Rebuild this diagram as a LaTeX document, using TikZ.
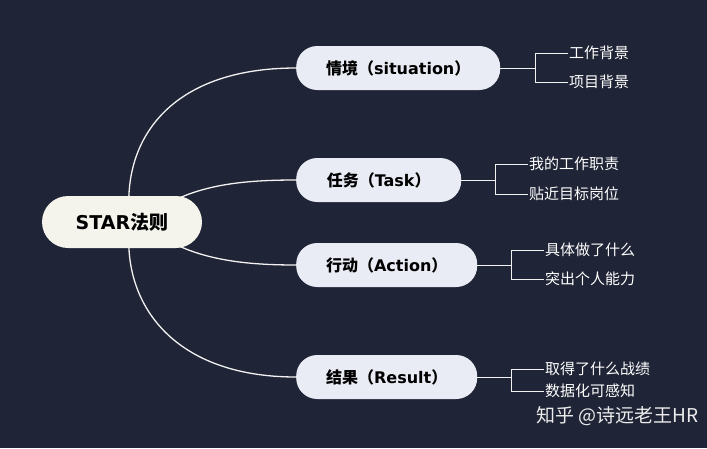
\documentclass[tikz,border=0pt]{standalone}
\usepackage{fontspec}
\setmainfont{DejaVu Sans}
\newfontfamily\cjk{Noto Sans CJK SC}
\begin{document}
\begin{tikzpicture}[x=1pt,y=-1pt,
  branch/.style={rounded corners=21pt,fill=lav,minimum height=44pt,anchor=west,font=\bfseries\fontsize{16}{16}\selectfont,text=black},
  leaf/.style={anchor=west,text=white,font=\cjk\fontsize{15}{15}\selectfont,inner sep=1pt},
  ln/.style={draw=white!90!gray,line width=1.3pt}]
\definecolor{bg}{HTML}{1F2436}
\definecolor{lav}{HTML}{E9EBF5}
\definecolor{cream}{HTML}{F4F4EC}
\fill[bg] (0,0) rectangle (707,448);
\useasboundingbox (0,0) rectangle (707,448);
\coordinate (c) at (130,222);
\node[branch,minimum width=204pt] (b1) at (296,68) {{\cjk\bfseries 情境（}situation{\cjk\bfseries ）}};
\node[branch,minimum width=165pt] (b2) at (296,180) {{\cjk\bfseries 任务（}Task{\cjk\bfseries ）}};
\node[branch,minimum width=181pt] (b3) at (296,265) {{\cjk\bfseries 行动（}Action{\cjk\bfseries ）}};
\node[branch,minimum width=181pt] (b4) at (296,377) {{\cjk\bfseries 结果（}Result{\cjk\bfseries ）}};
\draw[ln] (c) .. controls (120,140) and (170,68) .. (b1.west);
\draw[ln] (150,215) .. controls (190,185) and (240,180) .. (b2.west);
\draw[ln] (150,229) .. controls (190,259) and (240,265) .. (b3.west);
\draw[ln] (c) .. controls (120,300) and (170,377) .. (b4.west);
\node[rounded corners=26pt,fill=cream,minimum width=160pt,minimum height=52pt,font=\bfseries\fontsize{19}{19}\selectfont] (root) at (122,222) {STAR{\cjk\bfseries 法则}};
\node[leaf] (l11) at (568,53) {工作背景};
\node[leaf] (l12) at (568,82) {项目背景};
\node[leaf] (l21) at (528,164) {我的工作职责};
\node[leaf] (l22) at (528,194) {贴近目标岗位};
\node[leaf] (l31) at (544,250) {具体做了什么};
\node[leaf] (l32) at (544,279) {突出个人能力};
\node[leaf] (l41) at (544,369) {取得了什么战绩};
\node[leaf] (l42) at (544,391) {数据化可感知};
\foreach \b/\x/\p/\q in {b1/535/l11/l12,b2/495/l21/l22,b3/511/l31/l32,b4/511/l41/l42}{
  \draw[ln,line width=0.9pt] (\b.east) -- (\x,0 |- \b.east);
  \draw[ln,line width=0.9pt] (\p.west) -| (\x,0 |- \q.west) -- (\q.west);
}
\node[anchor=east,text=white!85!gray,font=\cjk\fontsize{19}{19}\selectfont] (wm) at (702,416) {知乎 @诗远老王HR};
\end{tikzpicture}
\end{document}
